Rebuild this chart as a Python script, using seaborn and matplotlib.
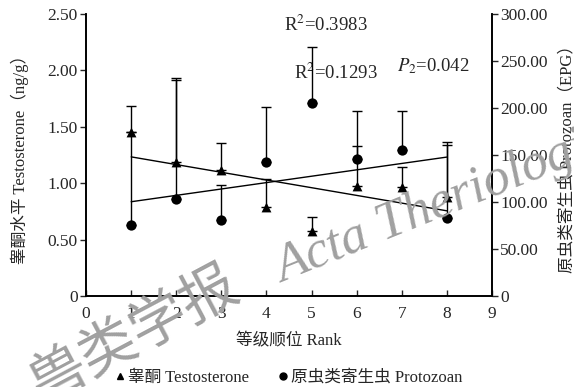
import numpy as np
import matplotlib
matplotlib.use("Agg")
import matplotlib.pyplot as plt
import seaborn as sns
from matplotlib.lines import Line2D

# 等级顺位
rank = [1, 2, 3, 4, 5, 6, 7, 8]

# 睾酮 (ng/g) 均值和上误差端
testo_mean = [1.45, 1.19, 1.12, 0.79, 0.58, 0.975, 0.97, 0.88]
testo_upper = [1.68, 1.93, 1.36, 1.04, 0.70, 1.33, 1.14, 1.365]

# 原虫类寄生虫 (EPG) 均值和上误差端
proto_mean = [75.8, 102.9, 81.0, 143.0, 205.6, 145.7, 155.0, 83.3]
proto_upper = [174.0, 230.0, 117.7, 201.0, 265.0, 197.0, 197.0, 161.0]

xticks = list(range(0, 10))
yticks_left = [0, 0.5, 1.0, 1.5, 2.0, 2.5]
yticks_right = [0, 50, 100, 150, 200, 250, 300]

sns.set_style("ticks")
plt.rcParams['font.family'] = ['Liberation Serif', 'Noto Sans CJK SC']
plt.rcParams['mathtext.fontset'] = 'stix'

fig = plt.figure(figsize=(5.74, 3.87), dpi=100)
ax = fig.add_axes([0.150, 0.235, 0.707, 0.729])
ax2 = ax.twinx()

fs = 12.5

# 水印 (画在最底层)
fig.text(0.070, -0.040, '兽类学报', fontsize=41, color='#a0a0a0', rotation=28,
         rotation_mode='anchor', ha='left', va='baseline',
         family=['Noto Sans CJK SC'], zorder=0)
fig.text(0.493, 0.269, 'Acta Theriologica', fontsize=38, color='#a0a0a0',
         rotation=22, rotation_mode='anchor', style='italic', ha='left',
         va='baseline', zorder=0)

# 睾酮
t_err = np.array(testo_upper) - np.array(testo_mean)
ax.errorbar(rank, testo_mean, yerr=[np.zeros(len(rank)), t_err], fmt='none',
            ecolor='black', elinewidth=1, capsize=3.5, capthick=1)
sns.scatterplot(x=rank, y=testo_mean, marker='^', color='black', s=50,
                linewidth=0, ax=ax, zorder=3)
sns.regplot(x=np.array(rank), y=np.array(testo_mean), ci=None, scatter=False,
            color='black', line_kws={'lw': 1}, ax=ax)

# 原虫
p_err = np.array(proto_upper) - np.array(proto_mean)
ax2.errorbar(rank, proto_mean, yerr=[np.zeros(len(rank)), p_err], fmt='none',
             ecolor='black', elinewidth=1, capsize=3.5, capthick=1)
sns.scatterplot(x=rank, y=proto_mean, marker='o', color='black', s=55,
                linewidth=0, ax=ax2, zorder=3)
sns.regplot(x=np.array(rank), y=np.array(proto_mean), ci=None, scatter=False,
            color='black', line_kws={'lw': 1}, ax=ax2)

ax.set_xlim(0, 9)
ax.set_ylim(0, 2.5)
ax2.set_ylim(0, 300)
ax.set_xticks(xticks)
ax.set_xticklabels([str(v) for v in xticks], fontsize=fs)
ax.set_yticks(yticks_left)
ax.set_yticklabels(['0'] + ['%.2f' % v for v in yticks_left[1:]], fontsize=fs)
ax2.set_yticks(yticks_right)
ax2.set_yticklabels(['0'] + ['%.2f' % v for v in yticks_right[1:]], fontsize=fs)

ax.tick_params(axis='x', direction='in', length=4, width=1, pad=7)
ax.tick_params(axis='y', direction='out', length=4, width=1, pad=2)
ax2.tick_params(axis='y', direction='out', length=4, width=1, pad=2)
for a in (ax, ax2):
    a.spines['top'].set_visible(False)
    for s in ('left', 'right', 'bottom'):
        a.spines[s].set_linewidth(1.2)
        a.spines[s].set_color('black')
ax.patch.set_alpha(0)
ax2.patch.set_alpha(0)

ax.set_xlabel('等级顺位 Rank', fontsize=12, labelpad=8)
ax.set_ylabel('睾酮水平 Testosterone（ng/g）', fontsize=12, labelpad=13)
ax2.set_ylabel('原虫类寄生虫 Protozoan（EPG）', fontsize=12, labelpad=9)

# 注释
ax.text(4.40, 2.40, r'R$^2$=0.3983', fontsize=13.5, ha='left', va='center')
ax.text(4.62, 1.98, r'R$^2$=0.1293', fontsize=13.5, ha='left', va='center')
ax.text(6.90, 2.04, r'$P_2$=0.042', fontsize=13.5, ha='left', va='center')

# 图例
handles = [
    Line2D([], [], marker='^', color='black', linestyle='none', markersize=5),
    Line2D([], [], marker='o', color='black', linestyle='none', markersize=5),
]
fig.legend(handles, ['睾酮 Testosterone', '原虫类寄生虫 Protozoan'],
           loc='lower center', bbox_to_anchor=(0.5, -0.035), ncol=2, frameon=False,
           fontsize=12, handletextpad=0.0, columnspacing=1.5, handlelength=1.0)

fig.savefig('out.png', dpi=100)
